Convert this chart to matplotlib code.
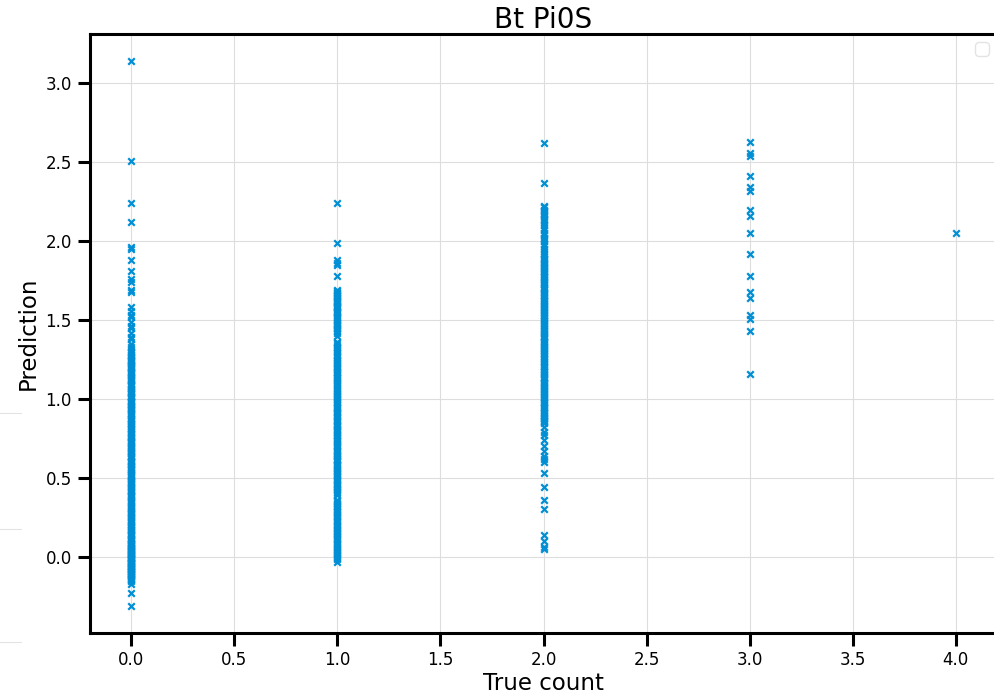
import numpy as np
import matplotlib
matplotlib.use("Agg")
import matplotlib.pyplot as plt

# predictions, one list per true count
pred_c0 = [3.14, 2.51, 2.24, 2.12, 1.96, 1.95, 1.88, 1.81, 1.76, 1.74, 1.69, 1.68,
           1.58, 1.56, 1.53, 1.52, 1.49, 1.46, 1.45, 1.42, 1.39, 1.38, 1.35, 1.33,
           1.31, 1.30, 1.27, 1.25, 1.24, 1.21, 1.19, 1.18, 1.15, 1.13, 1.12, 1.09,
           1.07, 1.05, 1.03, 1.01, 0.99, 0.97, 0.95, 0.93, 0.91, 0.88, 0.87, 0.84,
           0.82, 0.81, 0.78, 0.76, 0.74, 0.72, 0.69, 0.67, 0.66, 0.63, 0.61, 0.59,
           0.57, 0.55, 0.52, 0.51, 0.48, 0.46, 0.44, 0.42, 0.40, 0.38, 0.35, 0.34,
           0.31, 0.29, 0.27, 0.25, 0.23, 0.21, 0.19, 0.17, 0.15, 0.13, 0.12, 0.10,
           0.09, 0.08, 0.06, 0.05, 0.04, 0.03, 0.02, 0.01, 0.00, -0.01, -0.02, -0.03,
           -0.04, -0.05, -0.06, -0.07, -0.08, -0.09, -0.10, -0.11, -0.13, -0.14,
           -0.15, -0.17, -0.23, -0.31,
           1.296, 1.283, 1.262, 1.248, 1.236, 1.222, 1.203, 1.194, 1.171, 1.162,
           1.141, 1.124, 1.113, 1.098, 1.082, 1.061, 1.044, 1.037, 1.018, 1.004,
           0.985, 0.979, 0.961, 0.944, 0.938, 0.921, 0.903, 0.894, 0.876, 0.858,
           0.847, 0.829, 0.812, 0.797, 0.786, 0.768, 0.751, 0.733, 0.727, 0.708,
           0.694, 0.681, 0.672, 0.653, 0.642, 0.624, 0.607, 0.598, 0.583, 0.564,
           0.558, 0.536, 0.527, 0.505, 0.494, 0.473, 0.468, 0.452, 0.433, 0.421,
           0.411, 0.393, 0.386, 0.367, 0.356, 0.328, 0.322, 0.304, 0.283, 0.276,
           0.262, 0.245, 0.236, 0.219, 0.201, 0.186, 0.178, 0.162, 0.143, 0.137,
           0.114, 0.106, 0.087, 0.074, 0.068, 0.055, 0.043, 0.036, 0.024, 0.016,
           0.007, -0.006, -0.014, -0.027, -0.036, -0.048, -0.055, -0.067, -0.076,
           -0.088, -0.097, -0.106, -0.118, -0.124, -0.137, -0.146]
pred_c1 = [2.24, 1.99, 1.88, 1.86, 1.85, 1.78, 1.69, 1.67, 1.65, 1.63, 1.61, 1.58,
           1.56, 1.55, 1.52, 1.50, 1.47, 1.45, 1.43, 1.40, 1.36, 1.34, 1.32, 1.30,
           1.27, 1.25, 1.23, 1.21, 1.19, 1.17, 1.14, 1.12, 1.10, 1.08, 1.06, 1.04,
           1.02, 1.00, 0.98, 0.96, 0.94, 0.92, 0.89, 0.87, 0.85, 0.83, 0.81, 0.79,
           0.77, 0.74, 0.72, 0.70, 0.68, 0.66, 0.64, 0.62, 0.59, 0.57, 0.55, 0.53,
           0.51, 0.49, 0.47, 0.45, 0.43, 0.41, 0.36, 0.34, 0.32, 0.30, 0.27, 0.25,
           0.23, 0.21, 0.19, 0.17, 0.15, 0.13, 0.11, 0.09, 0.07, 0.05, 0.03, 0.01,
           -0.01, -0.03,
           1.684, 1.672, 1.658, 1.643, 1.624, 1.616, 1.597, 1.586, 1.568, 1.542,
           1.534, 1.516, 1.487, 1.476, 1.461, 1.442, 1.416, 1.352, 1.327, 1.311,
           1.288, 1.263, 1.244, 1.226, 1.204, 1.183, 1.162, 1.153, 1.131, 1.113,
           1.092, 1.071, 1.052, 1.033, 1.014, 0.994, 0.973, 0.952, 0.933, 0.914,
           0.903, 0.884, 0.862, 0.843, 0.826, 0.804, 0.786, 0.763, 0.754, 0.732,
           0.713, 0.694, 0.673, 0.654, 0.632, 0.614, 0.606, 0.583, 0.562, 0.543,
           0.524, 0.503, 0.484, 0.462, 0.443, 0.424, 0.406, 0.392, 0.352, 0.333,
           0.314, 0.293, 0.284, 0.262, 0.243, 0.224, 0.203, 0.184, 0.162, 0.143,
           0.124, 0.104, 0.083, 0.064, 0.046, 0.024, 0.004, -0.016]
pred_c2 = [2.62, 2.37, 2.22, 2.20, 2.18, 2.16, 2.14, 2.12, 2.10, 2.07, 2.04, 2.02,
           2.00, 1.97, 1.95, 1.92, 1.89, 1.87, 1.85, 1.83, 1.81, 1.78, 1.76, 1.74,
           1.72, 1.70, 1.68, 1.65, 1.63, 1.61, 1.59, 1.57, 1.55, 1.53, 1.50, 1.48,
           1.46, 1.44, 1.42, 1.40, 1.37, 1.35, 1.33, 1.31, 1.29, 1.27, 1.24, 1.22,
           1.20, 1.18, 1.16, 1.14, 1.11, 1.09, 1.07, 1.05, 1.03, 1.01, 0.98, 0.96,
           0.94, 0.92, 0.90, 0.88, 0.86, 0.82, 0.79, 0.77, 0.74, 0.70, 0.67, 0.64,
           0.62, 0.60, 0.53, 0.44, 0.36, 0.30, 0.14, 0.10, 0.06, 0.05,
           1.904, 1.884, 1.862, 1.843, 1.822, 1.804, 1.793, 1.773, 1.752, 1.733,
           1.712, 1.694, 1.673, 1.662, 1.641, 1.622, 1.603, 1.582, 1.563, 1.544,
           1.523, 1.514, 1.492, 1.473, 1.452, 1.433, 1.414, 1.393, 1.384, 1.362,
           1.343, 1.324, 1.304, 1.283, 1.262, 1.254, 1.233, 1.212, 1.193, 1.172,
           1.153, 1.134, 1.124, 1.103, 1.082, 1.063, 1.044, 1.023, 1.004, 0.993,
           0.973, 0.952, 0.933, 0.914, 0.893, 0.874, 0.862, 0.847, 2.214, 2.193,
           2.172, 2.134, 2.083, 2.053, 2.012, 1.983, 1.934]
pred_c3 = [2.63, 2.56, 2.54, 2.41, 2.34, 2.32, 2.20, 2.16, 2.05, 1.92, 1.78, 1.68,
           1.64, 1.53, 1.51, 1.43, 1.16]
pred_c4 = [2.05]

counts = [0, 1, 2, 3, 4]
preds = [pred_c0, pred_c1, pred_c2, pred_c3, pred_c4]

true_count = np.concatenate([np.full(len(p), c, dtype=float) for c, p in zip(counts, preds)])
prediction = np.concatenate([np.array(p) for p in preds])

plt.rcParams['font.family'] = ['DejaVu Sans']

fig = plt.figure(figsize=(9.94, 6.99), dpi=100)

# sliver of the neighbouring panel that shows on the left edge
side = fig.add_axes([-0.3, (699 - 660) / 699, 0.3 + 22 / 994, 260 / 699])
side.set_xlim(0, 1)
side.set_ylim(260, 0)
side.set_yticks([13, 129, 242])
side.set_xticks([])
side.tick_params(left=False, labelleft=False)
side.grid(axis='y', color='#e3e3e3', linewidth=0.8)
for sp in side.spines.values():
    sp.set_visible(False)

ax = fig.add_axes([90 / 994, (699 - 633) / 699, 907 / 994, 599 / 699])
ax.scatter(true_count, prediction, marker='x', s=22, linewidths=1.6, color='#008fd5', zorder=3)

ax.set_xlim(-0.2, 4.2)
ax.set_ylim(-0.4825, 3.3125)
ax.set_xticks(np.arange(0, 4.01, 0.5))
ax.set_yticks(np.arange(0, 3.01, 0.5))
ax.grid(True, color='#dddddd', linewidth=0.8, zorder=0)

for sp in ['left', 'top', 'bottom', 'right']:
    ax.spines[sp].set_linewidth(2.2)
    ax.spines[sp].set_color('black')

ax.tick_params(direction='out', length=9, width=2.2, labelsize=12, pad=4)

ax.set_title('Bt Pi0S', fontsize=20, pad=4)
ax.set_xlabel('True count', fontsize=16.5, labelpad=2)
ax.set_ylabel('Prediction', fontsize=16.5, labelpad=4)

ax.legend(handles=[], loc='upper right', fontsize=12, edgecolor='#dddddd')

fig.savefig('out.png', dpi=100)
